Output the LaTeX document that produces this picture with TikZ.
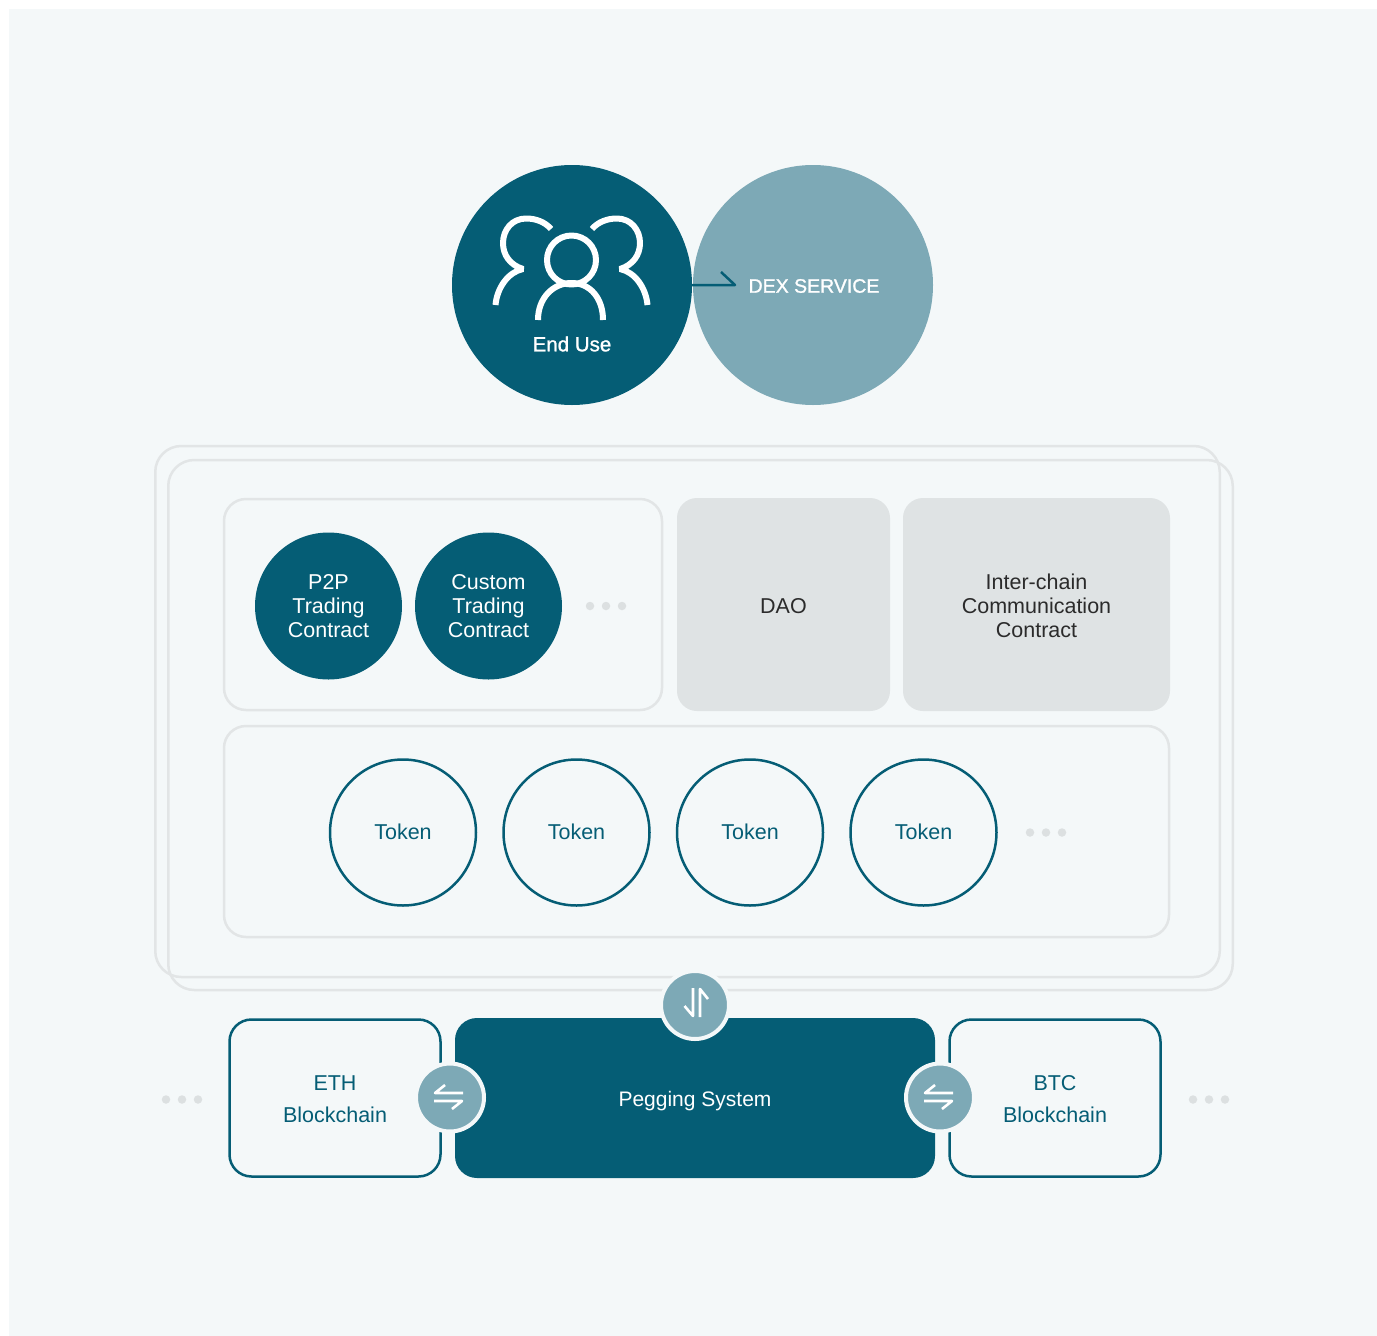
\documentclass[tikz,border=0pt]{standalone}
\usepackage{fontspec}
\setmainfont{Liberation Sans}
\newfontfamily\medfont[FakeBold=1.2]{Liberation Sans}
\usetikzlibrary{arrows,shapes}
\definecolor{petrol}{HTML}{055D75}
\definecolor{mist}{HTML}{7DA9B6}
\definecolor{paper}{HTML}{F4F8F9}
\definecolor{rim}{HTML}{E2E5E6}
\definecolor{speck}{HTML}{DCE0E1}
\definecolor{slab}{HTML}{DFE3E4}
\definecolor{ink}{HTML}{2B2B2B}
\newcommand{\nudge}{\rule{0pt}{18pt}}
\tikzstyle{txt}=[font=\fontsize{21.5}{24}\selectfont,align=center]
\tikzstyle{bigball}=[circle,minimum size=240pt,inner sep=0pt,txt]
\tikzstyle{contract}=[circle,fill=petrol,text=white,minimum size=147pt,inner sep=0pt,txt]
\tikzstyle{token}=[circle,draw=petrol,line width=2.5pt,text=petrol,minimum size=146pt,inner sep=0pt,text depth=2pt,txt]
\tikzstyle{frame}=[draw=rim,line width=2.5pt,rounded corners=22pt,inner sep=0pt]
\tikzstyle{graybox}=[fill=slab,text=ink,rounded corners=20pt,inner sep=0pt,txt]
\tikzstyle{chain}=[draw=petrol,line width=2.5pt,rounded corners=22pt,text=petrol,minimum width=211pt,minimum height=157pt,inner sep=0pt,font=\fontsize{21.5}{32}\selectfont,align=center]
\tikzstyle{swap}=[circle,fill=mist,draw=paper,line width=4pt,minimum size=68pt,inner sep=0pt]
\tikzstyle{dot}=[circle,fill=speck,minimum size=8.5pt,inner sep=0pt]
\tikzstyle{icon}=[draw=white,line width=2.6pt,line join=round]
\tikzstyle{person}=[draw=white,line width=6pt,line join=bevel]
\begin{document}
\begin{tikzpicture}[x=1pt,y=-1pt]
    \useasboundingbox (0,0) rectangle (1377,1336);
    \fill[paper] (9,9) rectangle (1377,1336);
    % The two big circles on top
    \node[bigball,fill=petrol] (enduse) at (572,285) {};
    \node[bigball,fill=mist] (dex) at (813,285) {};
    \node[text=white,font=\medfont\fontsize{20.5}{24}\selectfont] (enduselabel) at (572,344) {End Use};
    \node[text=white,font=\medfont\fontsize{19.5}{24}\selectfont] (dexlabel) at (814,286) {DEX SERVICE};
    \coordinate (dextip) at (735,285);
    \coordinate (dexbarb) at (721,272);
    \path[draw=petrol,line width=2.5pt,line join=round] (enduse.east) -- (dextip) -- (dexbarb);
    % Three people
    \path[person] (571.5,260) circle (24.5);
    \path[person] (538,320) .. controls (538,298) and (553,283) .. (571.5,283) .. controls (590,283) and (603,298) .. (603,320);
    \foreach \flip/\base in {1/0,-1/1143} {
        \begin{scope}[xshift=\base pt,x=\flip pt]
            \path[person] (551,229) .. controls (545,222) and (536,218.5) .. (526,218.5) .. controls (512,218.5) and (503,230) .. (503,243) .. controls (503,255) and (510,265) .. (523,269) .. controls (508,272) and (497,288) .. (495.5,305);
        \end{scope}
    }
    % Outer frames
    \node[frame,minimum width=1064.5pt,minimum height=531pt,rounded corners=26pt] (backframe) at (687.5,711.5) {};
    \node[frame,minimum width=1064.5pt,minimum height=530pt,rounded corners=26pt] (frontframe) at (700.5,725) {};
    % Contract row
    \node[frame,minimum width=438pt,minimum height=211pt] (contractrow) at (443,604.5) {};
    \foreach \pos/\name/\label in {{(328.5,606)/ptp/{P2P\\Trading\\Contract}}, {(488.5,606)/custom/{Custom\\Trading\\Contract}}}
        \node[contract] (\name) at \pos {\label};
    \foreach \pos/\name in {{(590,606)/rowa}, {(606,606)/rowb}, {(622,606)/rowc}, {(1030,832.5)/toka}, {(1046,832.5)/tokb}, {(1062,832.5)/tokc}, {(166,1099.5)/etha}, {(182,1099.5)/ethb}, {(198,1099.5)/ethc}, {(1193,1099.5)/btca}, {(1209,1099.5)/btcb}, {(1225,1099.5)/btcc}}
        \node[dot] (\name) at \pos {};
    \node[graybox,minimum width=213pt,minimum height=213pt] (dao) at (783.5,604.5) {\nudge DAO};
    \node[graybox,minimum width=267pt,minimum height=213pt] (interchain) at (1036.5,604.5) {\nudge Inter-chain\\Communication\\Contract};
    % Token row
    \node[frame,minimum width=945pt,minimum height=211pt] (tokenrow) at (696.5,831.5) {};
    \foreach \x/\name in {403/tokenone, 576.5/tokentwo, 750/tokenthree, 923.5/tokenfour}
        \node[token] (\name) at (\x,832.5) {Token};
    % Bottom row
    \node[chain] (eth) at (335,1098) {\nudge ETH\\Blockchain};
    \node[chain] (btc) at (1055,1098) {\nudge BTC\\Blockchain};
    \node[fill=petrol,text=white,rounded corners=22pt,minimum width=480pt,minimum height=160pt,inner sep=0pt,text height=16pt,text depth=0pt,font=\fontsize{21}{24}\selectfont] (pegging) at (695,1098) {Pegging System};
    % Swap badges with their half arrows
    \foreach \pos/\name in {{(450,1097.5)/swapeth}, {(940,1097.5)/swapbtc}, {(695,1005)/swapup}}
        \node[swap] (\name) at \pos {};
    \foreach \name in {swapeth,swapbtc} {
        \path[icon] ([shift={(13,-4.5)}]\name.center) -- ++(-28,0) -- ++(10,-8);
        \path[icon] ([shift={(-16,3.5)}]\name.center) -- ++(28,0) -- ++(-10,8);
    }
    \path[icon] ([shift={(-2,-17)}]swapup.center) -- ++(0,28) -- ++(-8.5,-10);
    \path[icon] ([shift={(5,12)}]swapup.center) -- ++(0,-28) -- ++(8,10);
\end{tikzpicture}
\end{document}
